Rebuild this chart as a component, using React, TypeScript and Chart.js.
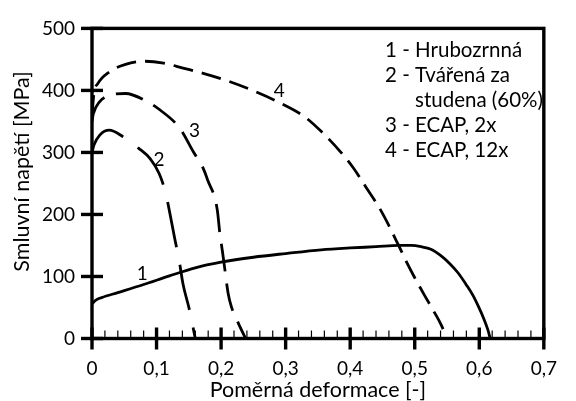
import React, { useEffect, useRef } from 'react';
import { Chart, registerables } from 'chart.js';

Chart.register(...registerables);

// Curve 1 – Hrubozrnná (solid)
const curve1X = [0, 0.006, 0.015, 0.04, 0.08, 0.12, 0.16, 0.2, 0.25, 0.3, 0.355, 0.4, 0.44, 0.475, 0.495, 0.51, 0.525, 0.54, 0.554, 0.567, 0.579, 0.59, 0.599, 0.607, 0.613, 0.617];
const curve1Y = [56, 62, 66, 74, 87, 101, 114, 123, 131, 137, 143, 146, 148, 150, 150, 148, 144, 134, 121, 106, 88, 70, 51, 32, 15, 0];

// Curve 2 – Tvářená za studena (60%)
const curve2X = [0, 0.003, 0.012, 0.027, 0.047, 0.072, 0.09, 0.104, 0.114, 0.121, 0.128, 0.135, 0.141, 0.151, 0.16];
const curve2Y = [300, 312, 328, 336, 326, 307, 290, 266, 235, 200, 162, 126, 88, 46, 0];

// Curve 3 – ECAP, 2x
const curve3X = [0, 0.002, 0.012, 0.027, 0.052, 0.082, 0.106, 0.136, 0.157, 0.172, 0.179, 0.194, 0.198, 0.202, 0.205, 0.211, 0.216, 0.227, 0.238];
const curve3Y = [350, 362, 382, 392, 395, 384, 368, 339, 301, 275, 256, 208, 170, 141, 118, 72, 51, 24, 0];

// Curve 4 – ECAP, 12x
const curve4X = [0, 0.003, 0.009, 0.027, 0.052, 0.082, 0.111, 0.141, 0.171, 0.211, 0.251, 0.291, 0.33, 0.355, 0.385, 0.405, 0.425, 0.445, 0.46, 0.475, 0.488, 0.5, 0.515, 0.53, 0.541, 0.55];
const curve4Y = [360, 395, 411, 430, 442, 447, 444, 436, 428, 415, 399, 380, 357, 334, 301, 275, 243, 211, 182, 150, 122, 98, 70, 43, 22, 0];

const curveLabels = ['1', '2', '3', '4'];
const curveLabelX = [0.078, 0.104, 0.159, 0.29];
const curveLabelY = [104, 288, 334, 400];

const legendLines = ['1 - Hrubozrnná', '2 - Tvářená za', 'studena (60%)', '3 - ECAP, 2x', '4 - ECAP, 12x'];

const xTitle = 'Poměrná deformace [-]';
const yTitle = 'Smluvní napětí [MPa]';

const xMajorTicks = [0, 0.1, 0.2, 0.3, 0.4, 0.5, 0.6, 0.7];
const xMinorTicks = [0.02, 0.04, 0.06, 0.08, 0.12, 0.14, 0.16, 0.18, 0.22, 0.24, 0.26, 0.28, 0.32, 0.34, 0.36, 0.38, 0.42, 0.44, 0.46, 0.48, 0.52, 0.54, 0.56, 0.58, 0.62, 0.64, 0.66, 0.68];
const yMajorTicks = [0, 100, 200, 300, 400, 500];

const FONT = 'Lato';
const TEXT_SIZE = 21.5;
const LEGEND_SIZE = 20.5;
const TICK_SIZE = 19;

const toPoints = (xs: number[], ys: number[]) => xs.map((x, i) => ({ x, y: ys[i] }));

const decorPlugin = {
  id: 'decor',
  afterDatasetsDraw(chart: any) {
    const { ctx, chartArea: a, scales } = chart;
    const xs = scales.x;
    const ys = scales.y;
    ctx.save();
    ctx.strokeStyle = '#000';
    ctx.fillStyle = '#000';
    // frame
    ctx.lineWidth = 3.4;
    ctx.strokeRect(a.left, a.top, a.right - a.left, a.bottom - a.top);
    // x major ticks
    ctx.lineWidth = 3.4;
    xMajorTicks.forEach((v) => {
      const px = xs.getPixelForValue(v);
      ctx.beginPath();
      ctx.moveTo(px, a.bottom - 11);
      ctx.lineTo(px, a.bottom + 11);
      ctx.stroke();
    });
    // x minor ticks
    ctx.lineWidth = 1.2;
    xMinorTicks.forEach((v) => {
      const px = xs.getPixelForValue(v);
      ctx.beginPath();
      ctx.moveTo(px, a.bottom - 8);
      ctx.lineTo(px, a.bottom);
      ctx.stroke();
    });
    // y major ticks
    ctx.lineWidth = 3.4;
    yMajorTicks.forEach((v) => {
      const py = ys.getPixelForValue(v);
      ctx.beginPath();
      ctx.moveTo(a.left - 11, py);
      ctx.lineTo(a.left + 11, py);
      ctx.stroke();
    });
    // curve labels
    ctx.font = `${TICK_SIZE}px ${FONT}`;
    ctx.textAlign = 'center';
    ctx.textBaseline = 'middle';
    curveLabels.forEach((t, i) => {
      ctx.fillText(t, xs.getPixelForValue(curveLabelX[i]), ys.getPixelForValue(curveLabelY[i]));
    });
    // legend text
    ctx.font = `${LEGEND_SIZE}px ${FONT}`;
    ctx.textAlign = 'left';
    ctx.textBaseline = 'alphabetic';
    const lx = a.left + 293;
    const indent = 30;
    legendLines.forEach((t, i) => {
      ctx.fillText(t, i === 2 ? lx + indent : lx, a.top + 29 + i * 25);
    });
    // y title
    ctx.font = `${TEXT_SIZE}px ${FONT}`;
    ctx.translate(22, (a.top + a.bottom) / 2 - 12);
    ctx.rotate(-Math.PI / 2);
    ctx.textAlign = 'center';
    ctx.textBaseline = 'middle';
    ctx.fillText(yTitle, 0, 0);
    ctx.restore();
  },
};

export default function App() {
  const ref = useRef<HTMLCanvasElement>(null);
  useEffect(() => {
    const common = {
      borderColor: '#000',
      borderWidth: 2.8,
      pointRadius: 0,
      fill: false,
      cubicInterpolationMode: 'monotone' as const,
      borderCapStyle: 'butt' as const,
    };
    const chart = new Chart(ref.current!, {
      type: 'line',
      data: {
        datasets: [
          { ...common, label: legendLines[0], data: toPoints(curve1X, curve1Y) },
          { ...common, label: legendLines[1], data: toPoints(curve2X, curve2Y), borderDash: [46, 18] },
          { ...common, label: legendLines[3], data: toPoints(curve3X, curve3Y), borderDash: [28, 12] },
          { ...common, label: legendLines[4], data: toPoints(curve4X, curve4Y), borderDash: [20, 9] },
        ],
      },
      options: {
        animation: false,
        responsive: true,
        maintainAspectRatio: false,
        layout: { padding: { top: 26, right: 15, left: 0, bottom: 0 } },
        plugins: { legend: { display: false }, tooltip: { enabled: false } },
        scales: {
          x: {
            type: 'linear',
            min: 0,
            max: 0.7,
            grid: { display: false, drawTicks: false },
            border: { display: false },
            ticks: {
              stepSize: 0.1,
              padding: 19,
              color: '#000',
              maxRotation: 0,
              autoSkip: false,
              font: { family: FONT, size: TICK_SIZE },
              callback: (v: any) => (Number(v) === 0 ? '0' : Number(v).toFixed(1).replace('.', ',')),
            },
            title: {
              display: true,
              text: xTitle,
              color: '#000',
              font: { family: FONT, size: TEXT_SIZE, lineHeight: 1 },
              padding: 0,
            },
            afterFit: (s: any) => { s.height = 62.5; },
          },
          y: {
            type: 'linear',
            min: 0,
            max: 500,
            grid: { display: false, drawTicks: false },
            border: { display: false },
            ticks: {
              stepSize: 100,
              padding: 17,
              color: '#000',
              font: { family: FONT, size: TICK_SIZE },
            },
            afterFit: (s: any) => { s.width = 92; },
          },
        },
      },
      plugins: [decorPlugin],
    });
    return () => chart.destroy();
  }, []);
  return (
    <div style={{ position: 'fixed', left: 0, top: 0, width: 576, height: 401, background: '#fff' }}>
      <canvas ref={ref} />
    </div>
  );
}
